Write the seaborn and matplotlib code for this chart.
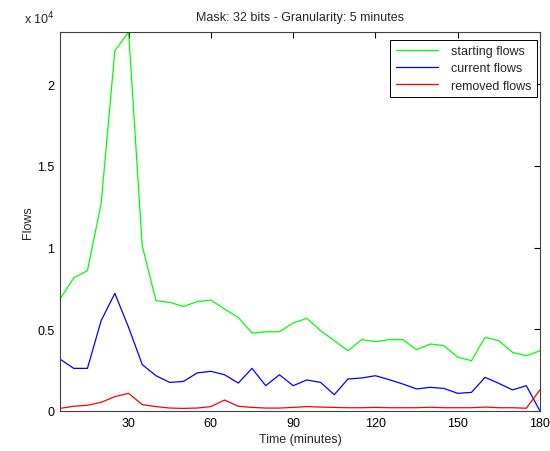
import numpy as np
import pandas as pd
import matplotlib
matplotlib.use("Agg")
import matplotlib.pyplot as plt
import seaborn as sns

# Time axis: one sample every 5 minutes
minutes = list(range(5, 185, 5))

# Values
starting_flows = [6850, 8140, 8590, 12700, 22050, 23200, 10100, 6750, 6650, 6400,
                  6690, 6790, 6240, 5730, 4770, 4850, 4850, 5390, 5670, 4920,
                  4300, 3690, 4370, 4240, 4370, 4370, 3750, 4100, 4000, 3290,
                  3080, 4510, 4300, 3590, 3380, 3690]
current_flows = [3180, 2610, 2610, 5530, 7200, 5120, 2840, 2160, 1750, 1810,
                 2330, 2430, 2220, 1710, 2610, 1550, 2220, 1550, 1900, 1750,
                 1000, 1960, 2020, 2160, 1920, 1650, 1350, 1450, 1380, 1080,
                 1140, 2060, 1690, 1290, 1550, 0]
removed_flows = [160, 290, 350, 530, 880, 1080, 390, 270, 180, 160,
                 180, 270, 670, 290, 220, 180, 180, 220, 270, 240,
                 220, 200, 200, 220, 200, 200, 200, 230, 200, 200,
                 200, 240, 200, 200, 170, 1300]

series_names = ["starting flows", "current flows", "removed flows"]
series_colors = ["#00ff00", "#0000ff", "#ff0000"]
y_ticks = [0, 5000, 10000, 15000, 20000]
y_tick_labels = ["0", "0.5", "1", "1.5", "2"]
x_ticks = [30, 60, 90, 120, 150, 180]

df = pd.DataFrame({"Time": minutes,
                   "starting flows": starting_flows,
                   "current flows": current_flows,
                   "removed flows": removed_flows})
long_df = df.melt(id_vars="Time", var_name="series", value_name="Flows")

sns.set_style("white")
plt.rcParams["font.family"] = ["Liberation Sans", "DejaVu Sans"]
plt.rcParams["font.size"] = 9

fig = plt.figure(figsize=(5.5, 4.52), dpi=100)
ax = fig.add_axes([60 / 550, 40 / 452, 480 / 550, 379 / 452])

sns.lineplot(data=long_df, x="Time", y="Flows", hue="series",
             hue_order=series_names, palette=series_colors,
             linewidth=0.9, ax=ax)

ax.set_xlim(5, 180)
ax.set_ylim(0, max(starting_flows))
ax.set_xticks(x_ticks)
ax.set_yticks(y_ticks)
ax.set_yticklabels(y_tick_labels)
ax.tick_params(direction="in", top=True, right=True, length=4,
               width=0.8, labelsize=9, colors="black", pad=4)
for spine in ax.spines.values():
    spine.set_color("#404040")
    spine.set_linewidth(0.8)

ax.set_xlabel("Time (minutes)", fontsize=9, labelpad=3)
ax.set_ylabel("Flows", fontsize=9, labelpad=2)
ax.set_title("Mask: 32 bits - Granularity: 5 minutes", fontsize=9, pad=9)
ax.text(-0.01, 1.015, r"x 10$^4$", transform=ax.transAxes,
        fontsize=9, ha="right", va="bottom")

leg = ax.legend(loc="upper right", bbox_to_anchor=(0.9935, 0.98),
                fontsize=9, frameon=True, fancybox=False, framealpha=1,
                edgecolor="black", borderpad=0.45, handlelength=3.4,
                labelspacing=0.42, handletextpad=1.0, borderaxespad=0)
leg.get_frame().set_linewidth(0.7)

fig.savefig("out.png", dpi=100)
